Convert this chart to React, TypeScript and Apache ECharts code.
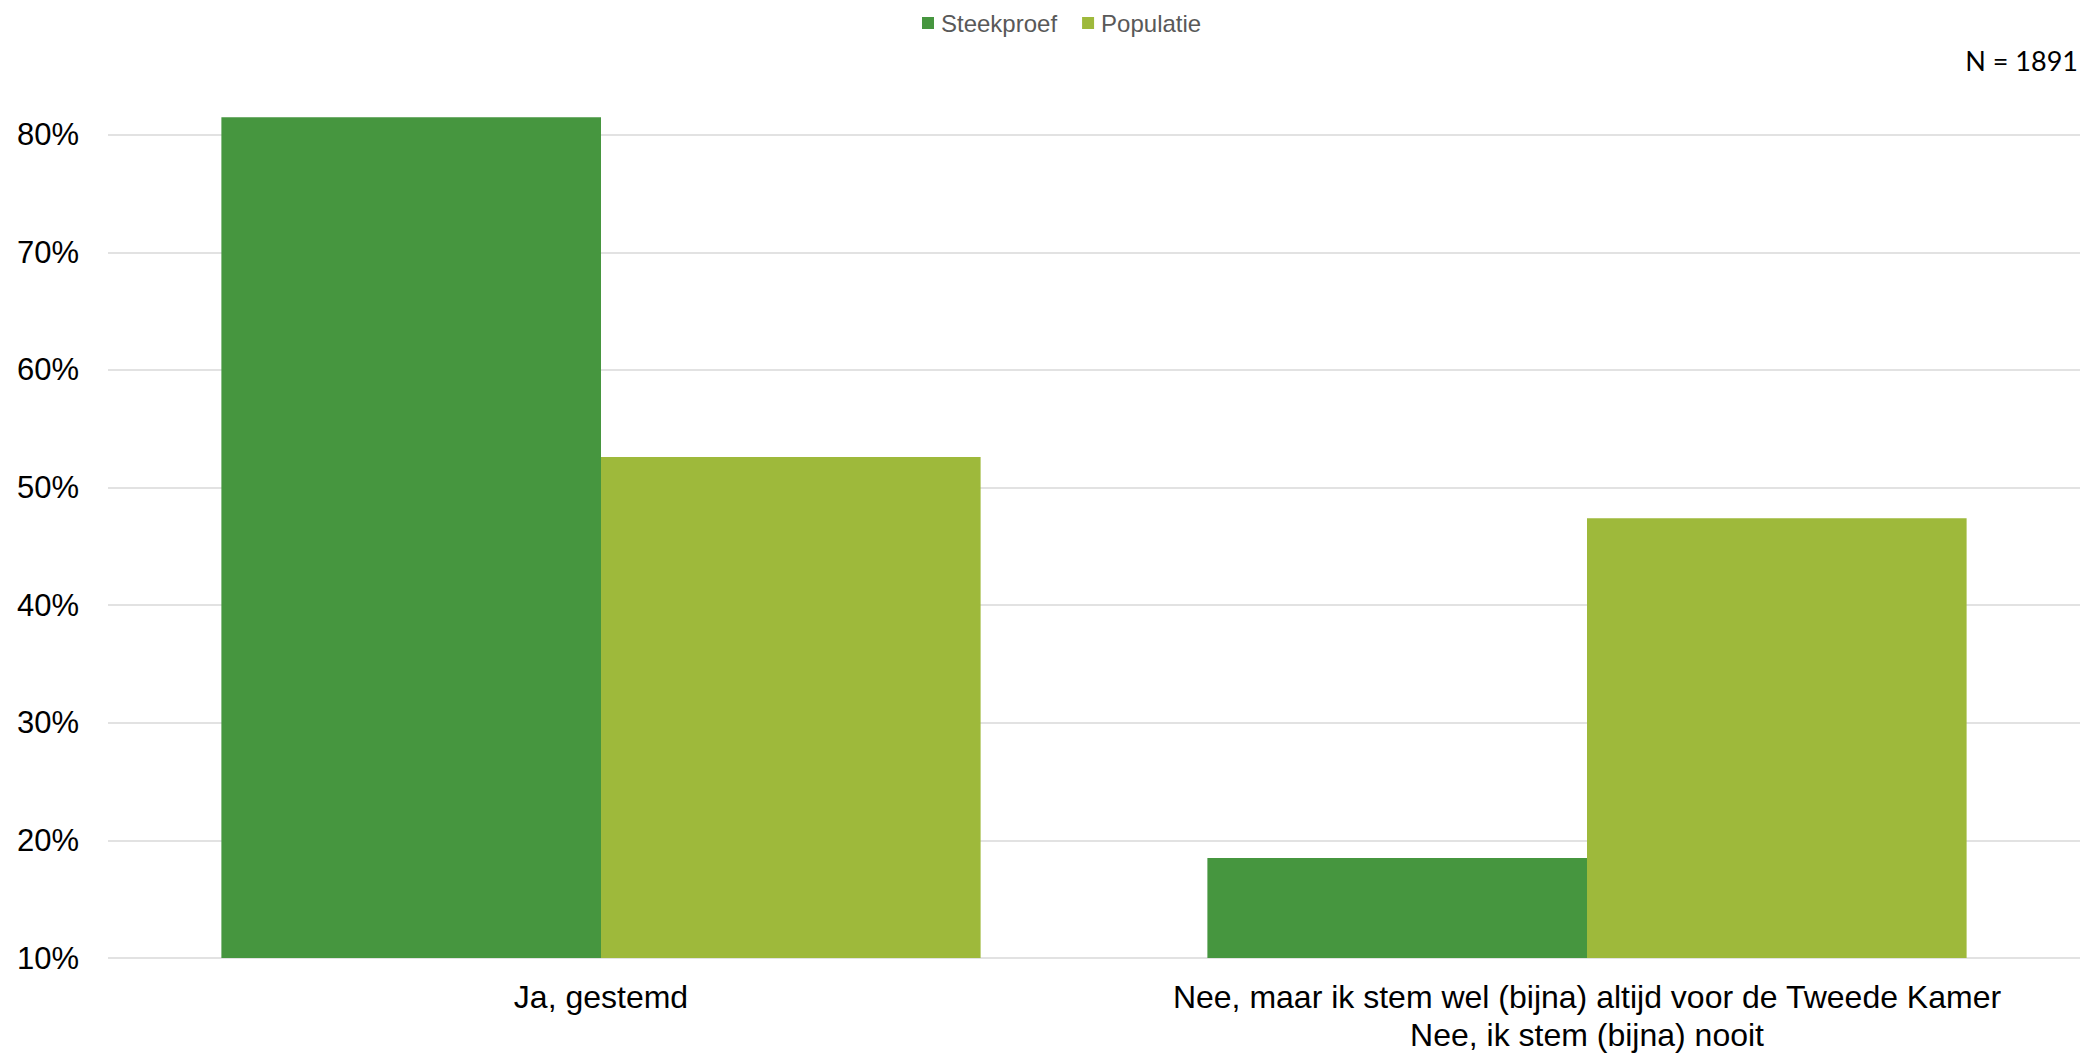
import React, { useEffect, useRef } from "react";
import * as echarts from "echarts";

const categories = [
  "Ja, gestemd",
  "Nee, maar ik stem wel (bijna) altijd voor de Tweede Kamer\nNee, ik stem (bijna) nooit",
];
const seriesNames = ["Steekproef", "Populatie"];
const steekproef = [81.5, 18.5];
const populatie = [52.6, 47.4];
const yTicks = { min: 10, max: 82, interval: 10 };
const nLabel = "N = 1891";

const COLORS = ["#46963F", "#9EB93B"];

export default function App() {
  const ref = useRef<HTMLDivElement>(null);

  useEffect(() => {
    if (!ref.current) return;
    const chart = echarts.init(ref.current, null, { renderer: "svg" });
    const plotBottom = 962.3;
    const pxPer10 = 118.2;
    const gridHeight = ((yTicks.max - yTicks.min) / 10) * pxPer10;
    chart.setOption({
      animation: false,
      backgroundColor: "#ffffff",
      textStyle: { fontFamily: "Liberation Sans, Arial, sans-serif" },
      legend: {
        left: 922,
        top: 11,
        padding: 0,
        itemWidth: 12,
        itemHeight: 12,
        itemGap: 25,
        icon: "rect",
        data: seriesNames,
        textStyle: {
          fontSize: 24,
          color: "#595959",
          fontFamily: "Liberation Sans, Arial, sans-serif",
          padding: [0, 0, 0, 2],
        },
      },
      graphic: [
        {
          type: "text",
          right: 2,
          top: 47,
          style: {
            text: nLabel,
            fontSize: 27,
            fontFamily: "Lato, sans-serif",
            fill: "#000000",
          },
        },
      ],
      grid: {
        left: 108,
        top: plotBottom - gridHeight,
        width: 1976,
        height: gridHeight,
        containLabel: false,
      },
      xAxis: {
        type: "category",
        data: categories,
        axisLine: { show: false },
        axisTick: { show: false },
        axisLabel: {
          interval: 0,
          fontSize: 32,
          lineHeight: 38,
          color: "#000000",
          margin: 20,
          fontFamily: "Liberation Sans, Arial, sans-serif",
        },
      },
      yAxis: {
        type: "value",
        min: yTicks.min,
        max: yTicks.max,
        interval: yTicks.interval,
        axisLine: { show: false },
        axisTick: { show: false },
        splitLine: {
          showMaxLine: false,
          lineStyle: { color: "#D9D9D9", width: 1.5 },
        },
        axisLabel: {
          formatter: "{value}%",
          showMaxLabel: false,
          fontSize: 31,
          color: "#000000",
          margin: 29,
          fontFamily: "Liberation Sans, Arial, sans-serif",
        },
      },
      series: [
        {
          name: seriesNames[0],
          type: "bar",
          data: steekproef,
          itemStyle: { color: COLORS[0] },
          barGap: "0%",
          barCategoryGap: "23%",
        },
        {
          name: seriesNames[1],
          type: "bar",
          data: populatie,
          itemStyle: { color: COLORS[1] },
          barGap: "0%",
          barCategoryGap: "23%",
        },
      ],
    });
    return () => chart.dispose();
  }, []);

  return (
    <div
      ref={ref}
      style={{ position: "fixed", left: 0, top: 0, width: 2080, height: 1054 }}
    />
  );
}
